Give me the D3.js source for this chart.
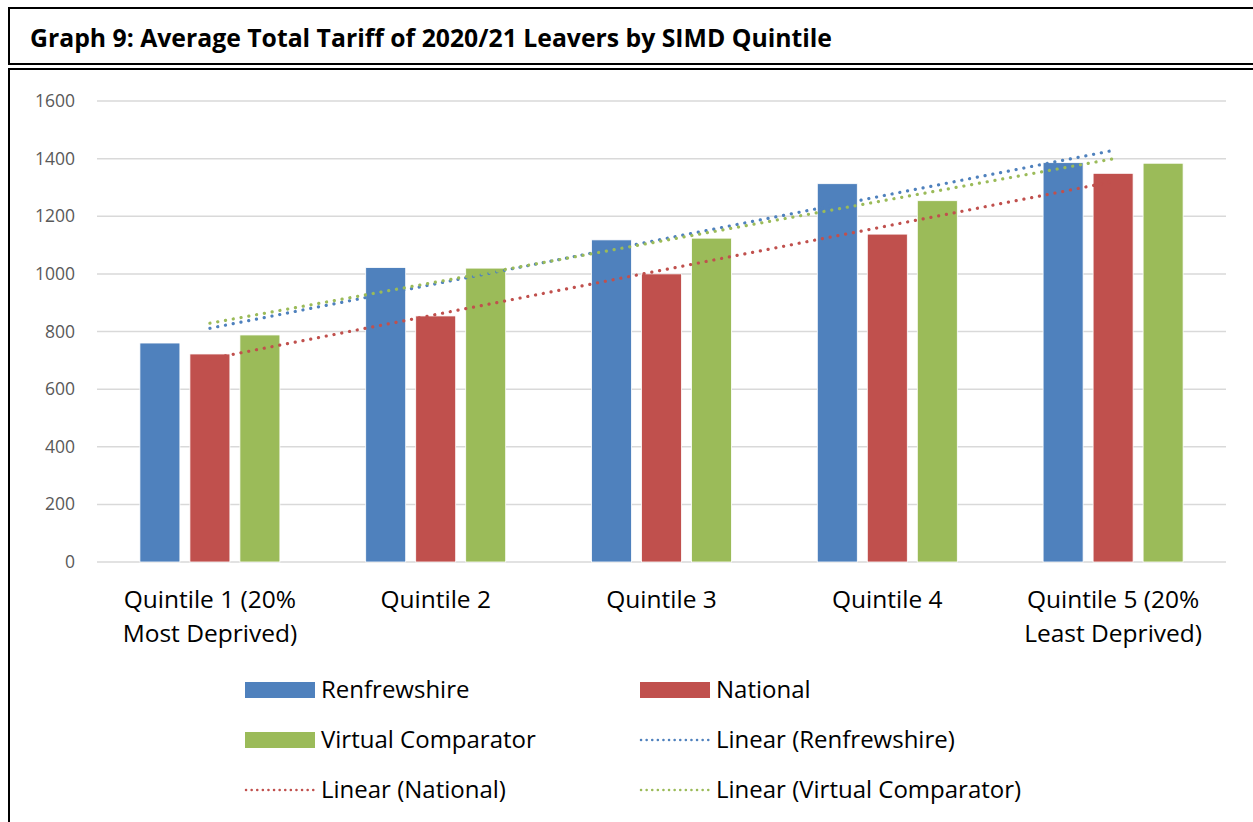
<!DOCTYPE html>
<html>
<head>
<meta charset="utf-8">
<script src="https://cdn.jsdelivr.net/npm/d3@7"></script>
<style>
  body { margin: 0; background: #fff; }
  svg { display: block; font-family: 'Open Sans', sans-serif; }
</style>
</head>
<body>
<div id="chart"></div>
<script>
var categories = [
  ['Quintile 1 (20%', 'Most Deprived)'],
  ['Quintile 2'],
  ['Quintile 3'],
  ['Quintile 4'],
  ['Quintile 5 (20%', 'Least Deprived)']
];
var seriesNames = ['Renfrewshire', 'National', 'Virtual Comparator'];
var renfrewshire = [760, 1022, 1118, 1313, 1386];
var national = [722, 854, 1000, 1138, 1349];
var virtualComparator = [788, 1020, 1124, 1254, 1384];
var yTicks = [0, 200, 400, 600, 800, 1000, 1200, 1400, 1600];
var colors = ['#4F81BD', '#C0504D', '#9BBB59'];
var titleText = 'Graph 9: Average Total Tariff of 2020/21 Leavers by SIMD Quintile';

var series = [renfrewshire, national, virtualComparator];

var svgWidth = 1253;
var svgHeight = 822;
var margin = { left: 97, right: 27, top: 101, bottom: 260 };
var width = svgWidth - margin.left - margin.right;
var height = svgHeight - margin.top - margin.bottom;

var svg = d3.select('#chart').append('svg')
  .attr('width', svgWidth)
  .attr('height', svgHeight);

// frames
svg.append('rect')
  .attr('x', 9).attr('y', 8)
  .attr('width', 1260).attr('height', 56)
  .attr('fill', 'none').attr('stroke', '#000').attr('stroke-width', 2);
svg.append('rect')
  .attr('x', 9).attr('y', 69)
  .attr('width', 1260).attr('height', 800)
  .attr('fill', 'none').attr('stroke', '#000').attr('stroke-width', 2);

svg.append('text')
  .attr('x', 30).attr('y', 47)
  .attr('font-size', 24.5)
  .attr('font-weight', 'bold')
  .attr('textLength', 802)
  .attr('lengthAdjust', 'spacingAndGlyphs')
  .text(titleText);

var g = svg.append('g')
  .attr('transform', 'translate(' + margin.left + ', ' + margin.top + ')');

var xScale = d3.scaleBand()
  .domain(d3.range(categories.length))
  .range([0, width]);
var yScale = d3.scaleLinear()
  .domain([0, 1600])
  .range([height, 0]);
var xInner = d3.scaleBand()
  .domain(d3.range(series.length))
  .range([xScale.bandwidth() / 2 - 70, xScale.bandwidth() / 2 + 70])
  .paddingInner(0.2);

// gridlines
g.append('g')
  .selectAll('line')
  .data(yTicks)
  .enter().append('line')
  .attr('x1', 0).attr('x2', width)
  .attr('y1', function (d) { return yScale(d); })
  .attr('y2', function (d) { return yScale(d); })
  .attr('stroke', '#D9D9D9')
  .attr('stroke-width', 1.5);

var yAxis = d3.axisLeft(yScale)
  .tickValues(yTicks)
  .tickFormat(d3.format('d'))
  .tickSize(0)
  .tickPadding(22);
g.append('g')
  .call(yAxis)
  .call(function (sel) { sel.select('.domain').remove(); })
  .selectAll('text')
  .attr('font-size', 17.5)
  .attr('font-family', "'Open Sans', sans-serif")
  .attr('fill', '#595959');

// bars
series.forEach(function (values, si) {
  g.append('g')
    .selectAll('rect')
    .data(values)
    .enter().append('rect')
    .attr('x', function (d, i) { return xScale(i) + xInner(si); })
    .attr('y', function (d) { return yScale(d); })
    .attr('width', xInner.bandwidth())
    .attr('height', function (d) { return height - yScale(d); })
    .attr('fill', colors[si])
    .attr('stroke', '#fff')
    .attr('stroke-width', 0.8);
});

// linear trendlines (least squares on category index)
function trend(values) {
  var xs = d3.range(values.length);
  var mx = d3.mean(xs);
  var my = d3.mean(values);
  var num = d3.sum(xs, function (x, i) { return (x - mx) * (values[i] - my); });
  var den = d3.sum(xs, function (x) { return (x - mx) * (x - mx); });
  var slope = num / den;
  var first = 0;
  var last = values.length - 1;
  return [[first, my + slope * (first - mx)], [last, my + slope * (last - mx)]];
}

var trendLine = d3.line()
  .x(function (d) { return xScale(d[0]) + xScale.bandwidth() / 2; })
  .y(function (d) { return yScale(d[1]); });

[0, 2, 1].forEach(function (si) {
  g.append('path')
    .datum(trend(series[si]))
    .attr('d', trendLine)
    .attr('fill', 'none')
    .attr('stroke', colors[si])
    .attr('stroke-width', 3.2)
    .attr('stroke-linecap', 'round')
    .attr('stroke-dasharray', '0.1 7.8');
});

// x labels
var xLabels = g.append('g')
  .selectAll('text')
  .data(categories)
  .enter().append('text')
  .attr('x', function (d, i) { return xScale(i) + xScale.bandwidth() / 2; })
  .attr('y', height + 46)
  .attr('text-anchor', 'middle')
  .attr('font-size', 24.5)
  .attr('fill', '#000');
xLabels.selectAll('tspan')
  .data(function (d) { return d; })
  .enter().append('tspan')
  .attr('x', function () { return d3.select(this.parentNode).attr('x'); })
  .attr('dy', function (d, i) { return i === 0 ? 0 : 34; })
  .text(function (d) { return d; });

// legend
var legendItems = [
  { name: seriesNames[0], color: colors[0], type: 'bar' },
  { name: seriesNames[1], color: colors[1], type: 'bar' },
  { name: seriesNames[2], color: colors[2], type: 'bar' },
  { name: 'Linear (' + seriesNames[0] + ')', color: colors[0], type: 'line' },
  { name: 'Linear (' + seriesNames[1] + ')', color: colors[1], type: 'line' },
  { name: 'Linear (' + seriesNames[2] + ')', color: colors[2], type: 'line' }
];

var legend = svg.append('g');
var item = legend.selectAll('g')
  .data(legendItems)
  .enter().append('g')
  .attr('transform', function (d, i) {
    return 'translate(' + (245 + (i % 2) * 395) + ', ' + (690 + Math.floor(i / 2) * 50) + ')';
  });
item.filter(function (d) { return d.type === 'bar'; })
  .append('rect')
  .attr('x', 0).attr('y', -8)
  .attr('width', 70).attr('height', 16)
  .attr('fill', function (d) { return d.color; });
item.filter(function (d) { return d.type === 'line'; })
  .append('line')
  .attr('x1', 1).attr('x2', 70)
  .attr('y1', 0).attr('y2', 0)
  .attr('stroke', function (d) { return d.color; })
  .attr('stroke-width', 2.5)
  .attr('stroke-linecap', 'round')
  .attr('stroke-dasharray', '0.1 5.5');
item.append('text')
  .attr('x', 76).attr('y', 8)
  .attr('font-size', 24)
  .attr('fill', '#000')
  .text(function (d) { return d.name; });
</script>
</body>
</html>
